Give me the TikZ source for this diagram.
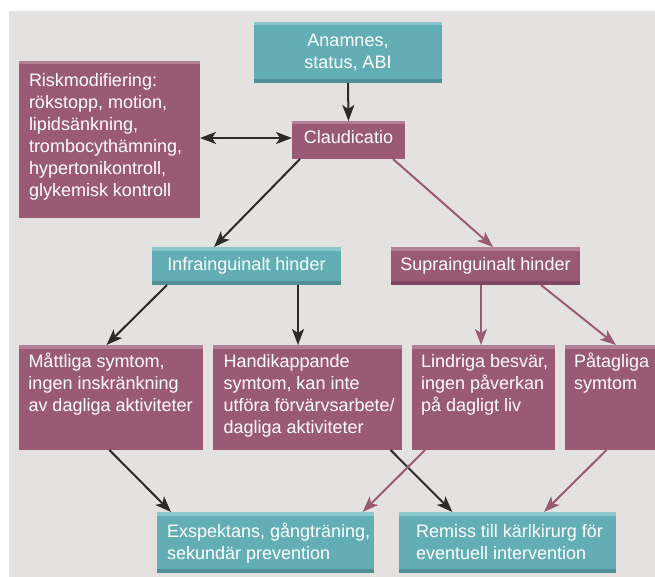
\documentclass[tikz,border=0pt]{standalone}
\usepackage{fontspec}
\setmainfont{Liberation Sans}
\usetikzlibrary{arrows.meta}
\definecolor{bg}{HTML}{E4E2E0}
\definecolor{teal}{HTML}{62AEB4}
\definecolor{tealtop}{HTML}{8AC6CA}
\definecolor{tealbot}{HTML}{4E9094}
\definecolor{purp}{HTML}{9B5A74}
\definecolor{purptop}{HTML}{B28096}
\definecolor{purpbot}{HTML}{7E4660}
\definecolor{dark}{HTML}{2C2B28}
\newcommand{\lbx}[5]{\vbox to #2pt{\hsize=#1pt\raggedright\leftskip=#3pt\kern#4pt\strut#5\par\vfill}}
\newcommand{\cbx}[4]{\vbox to #2pt{\hsize=#1pt\centering\kern#3pt\strut#4\par\vfill}}
\tikzset{
  box/.style={anchor=north west, inner sep=0pt, outer sep=0pt, text=white,
    font=\fontsize{18}{22}\selectfont},
  topstrip/.style={path picture={\fill[#1] (path picture bounding box.north west) rectangle ([yshift=-3.5pt]path picture bounding box.north east);}},
  tealbox/.style={box, fill=teal,
    path picture={\fill[tealtop] (path picture bounding box.north west) rectangle ([yshift=-3.5pt]path picture bounding box.north east);
      \fill[tealbot] (path picture bounding box.south west) rectangle ([yshift=4pt]path picture bounding box.south east);}},
  purpbox/.style={box, fill=purp,
    path picture={\fill[purptop] (path picture bounding box.north west) rectangle ([yshift=-3.5pt]path picture bounding box.north east);}},
  purpboxb/.style={box, fill=purp,
    path picture={\fill[purptop] (path picture bounding box.north west) rectangle ([yshift=-3.5pt]path picture bounding box.north east);
      \fill[purpbot] (path picture bounding box.south west) rectangle ([yshift=4pt]path picture bounding box.south east);}},
  arr/.style={draw=dark, line width=2pt, -{Stealth[length=16pt, width=12pt, inset=4pt]}},
  parr/.style={draw=purp, line width=2pt, -{Stealth[length=16pt, width=12pt, inset=4pt]}},
}
\begin{document}
\begin{tikzpicture}[x=1pt, y=-1pt]
\useasboundingbox (0,0) rectangle (655,577);
\fill[bg] (9,11) rectangle (655,577);

\node[tealbox] (anam) at (254,22) {\cbx{188}{61}{9.6}{Anamnes,\\ status, ABI}};
\node[purpbox] (risk) at (19,61) {\lbx{181}{157}{10}{10.6}{Riskmodifiering:\\ rökstopp, motion,\\ lipidsänkning,\\ trombocythämning,\\ hypertonikontroll,\\ glykemisk kontroll}};
\node[purpbox] (clau) at (292,121) {\cbx{113}{38}{7.6}{Claudicatio}};
\node[tealbox] (infra) at (152,247) {\cbx{189}{38}{8.3}{Infrainguinalt hinder}};
\node[purpboxb] (supra) at (391,247) {\cbx{189}{38}{8.3}{Suprainguinalt hinder}};
\node[purpbox] (matt) at (19,345) {\lbx{184}{105}{9.5}{7}{Måttliga symtom,\\ ingen inskränkning\\ av dagliga aktiviteter}};
\node[purpbox] (handi) at (213,345) {\lbx{189}{105}{10.5}{7}{Handikappande\\ symtom, kan inte\\ utföra förvärvsarbete/\\ dagliga aktiviteter}};
\node[purpbox] (lind) at (412,345) {\lbx{143}{105}{9}{7}{Lindriga besvär,\\ ingen påverkan\\ på dagligt liv}};
\node[purpbox] (pat) at (565,345) {\lbx{92}{105}{9}{7}{Påtagliga\\ symtom}};
\node[tealbox] (exsp) at (157,512) {\lbx{217}{61}{10}{9.6}{Exspektans, gångträning,\\ sekundär prevention}};
\node[tealbox] (rem) at (399,512) {\lbx{217}{61}{17}{9.6}{Remiss till kärlkirurg för\\ eventuell intervention}};

\draw[arr] (anam.south) -- (clau.north);
\draw[arr, {Stealth[length=16pt, width=12pt, inset=4pt]}-{Stealth[length=16pt, width=12pt, inset=4pt]}] ([yshift=2pt]clau.west -| risk.east) -- ([yshift=2pt]clau.west);
\draw[arr] ([xshift=8pt]clau.south west) -- ([xshift=62pt]infra.north west);
\draw[parr] ([xshift=-12pt]clau.south east) -- ([xshift=102pt]supra.north west);
\draw[arr] ([xshift=15pt]infra.south west) -- ([xshift=87.5pt]matt.north west);
\draw[arr] ([xshift=146pt]infra.south west) -- ([xshift=85pt]handi.north west);
\draw[parr] ([xshift=90pt]supra.south west) -- ([xshift=69pt]lind.north west);
\draw[parr] ([xshift=150pt]supra.south west) -- ([xshift=51pt]pat.north west);
\draw[arr] ([xshift=90.4pt]matt.south west) -- ([xshift=14pt]exsp.north west);
\draw[arr] ([xshift=177.6pt]handi.south west) -- ([xshift=53.4pt]rem.north west);
\draw[parr] ([xshift=13pt]lind.south west) -- ([xshift=205.6pt]exsp.north west);
\draw[parr] ([xshift=41.5pt]pat.south west) -- ([xshift=145pt]rem.north west);
\end{tikzpicture}
\end{document}
